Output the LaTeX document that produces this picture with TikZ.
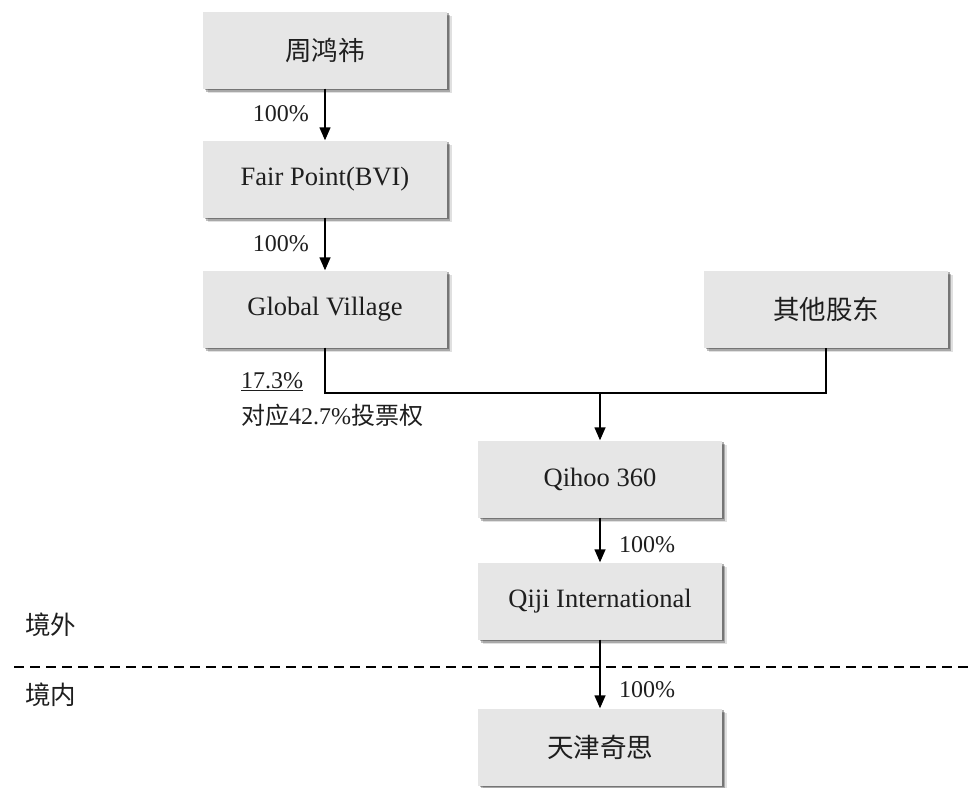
\documentclass[tikz,border=0pt]{standalone}
\usepackage{fontspec}
\setmainfont{Liberation Serif}
\newfontfamily\cjk{Noto Sans CJK SC}
\usetikzlibrary{arrows.meta,shadows}
\definecolor{boxfill}{HTML}{E6E6E6}
\definecolor{txt}{HTML}{1E1E1E}
\tikzset{
  ent/.style={fill=boxfill, draw=none, minimum width=244pt, minimum height=77pt, inner sep=0pt,
    text=txt, font=\fontsize{26.5}{30}\selectfont,
    general shadow={shadow xshift=4.5pt, shadow yshift=-4.5pt, fill=black, opacity=0.12},
    general shadow={shadow xshift=3pt, shadow yshift=-3pt, fill=black, opacity=0.25},
    general shadow={shadow xshift=1.5pt, shadow yshift=-1.5pt, fill=black, opacity=0.3}},
  conn/.style={line width=1.4pt, draw=black},
  arr/.style={conn, -{Triangle[width=11pt,length=13pt]}},
  pct/.style={text=txt, font=\fontsize{24}{28}\selectfont, inner sep=0pt},
  side/.style={text=txt, font=\fontsize{25.5}{28}\selectfont\cjk, inner sep=0pt}
}
\begin{document}
\begin{tikzpicture}[x=1pt,y=-1pt]
\useasboundingbox (0,0) rectangle (974,787);
\node[ent] (zhou) at (325,50) {\cjk 周鸿祎};
\node[ent] (fp) at (325,179) {Fair Point(BVI)};
\node[ent] (gv) at (325,309) {Global Village};
\node[ent] (other) at (826,309) {\cjk 其他股东};
\node[ent] (qihoo) at (600,479) {Qihoo 360};
\node[ent] (qiji) at (600,601) {Qiji International};
\node[ent] (tj) at (600,747) {\cjk 天津奇思};
\coordinate (j) at (600,393);
\draw[arr] (zhou.south) -- (fp.north);
\draw[arr] (fp.south) -- (gv.north);
\draw[conn] (gv.south) |- (j) -| (other.south);
\draw[arr] (j) -- (qihoo.north);
\draw[arr] (qihoo.south) -- (qiji.north);
\draw[arr] (qiji.south) -- (tj.north);
\node[pct, anchor=east] (l1) at (309,114) {100\%};
\node[pct, anchor=east] (l2) at (309,244) {100\%};
\node[pct, anchor=west] (l3) at (619,545) {100\%};
\node[pct, anchor=west] (l4) at (619,690) {100\%};
\node[pct, anchor=west] (l5) at (241,382) {\underline{17.3\%}};
\node[pct, anchor=west] (l6) at (241,415) {{\cjk 对应}42.7\%{\cjk 投票权}};
\coordinate (dl) at (14,667);
\coordinate (dr) at (974,667);
\draw[line width=1.4pt, dash pattern=on 10pt off 6pt] (dl) -- (dr);
\node[side, anchor=west] (out) at (25,625) {境外};
\node[side, anchor=west] (in) at (25,695) {境内};
\end{tikzpicture}
\end{document}
